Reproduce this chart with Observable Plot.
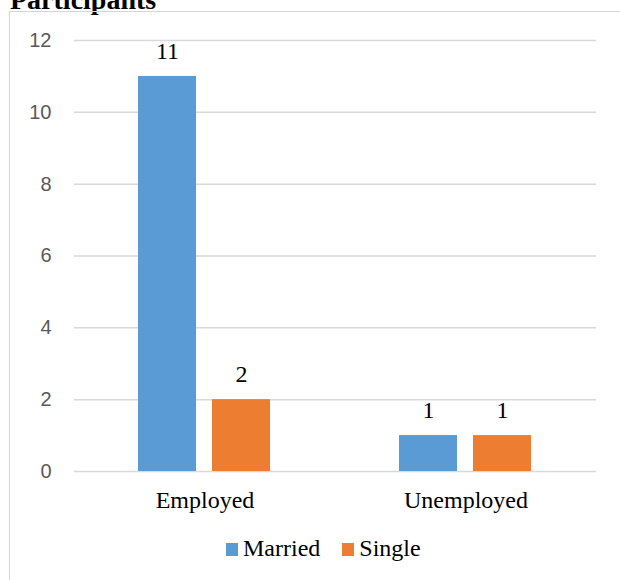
<!DOCTYPE html>
<html>
<head>
<meta charset="utf-8">
<script src="https://cdn.jsdelivr.net/npm/d3@7"></script>
<script src="https://cdn.jsdelivr.net/npm/@observablehq/plot@0.6"></script>
<style>
  html, body { margin: 0; padding: 0; width: 620px; height: 580px; overflow: hidden; background: #fff; }
  #title { position: absolute; left: 10px; top: -14px; font-weight: bold; font-size: 28px; line-height: 28px; font-family: 'Liberation Serif', 'DejaVu Serif', serif; color: #000; white-space: nowrap; }
  #box { position: absolute; left: 9px; top: 11px; width: 700px; height: 700px; border: 1px solid #d6d6d6; box-sizing: border-box; }
  #chart { position: absolute; left: 0; top: 0; }
  #legend { position: absolute; left: 226px; top: 536px; font-size: 24px; line-height: 24px; font-family: 'Liberation Serif', 'DejaVu Serif', serif; color: #000; white-space: nowrap; }
  #legend .item { display: inline-block; margin-right: 22px; }
  #legend .sw { display: inline-block; width: 12px; height: 13px; margin-right: 5px; vertical-align: 0; }
</style>
</head>
<body>
<div id="title">Participants</div>
<div id="box"></div>
<div id="chart"></div>
<div id="legend"></div>
<script>
const categories = ["Employed", "Unemployed"];
const series = ["Married", "Single"];
const married = [11, 1];
const single = [2, 1];
const yTicks = [0, 2, 4, 6, 8, 10, 12];
const colors = ["#5B9BD5", "#ED7D31"];
const serif = "'Liberation Serif', 'DejaVu Serif', serif";

const data = categories.flatMap((c, i) => [
  {category: c, series: series[0], value: married[i]},
  {category: c, series: series[1], value: single[i]}
]);

const chart = Plot.plot({
  width: 620,
  height: 521,
  marginLeft: 73,
  marginRight: 24,
  marginTop: 40,
  marginBottom: 50,
  style: "background: none; overflow: visible;",
  fx: {domain: categories, padding: 0, label: null, axis: null},
  x: {domain: series, paddingInner: 0.21, paddingOuter: 0.85, axis: null},
  y: {domain: [0, 12], axis: null},
  color: {domain: series, range: colors},
  marks: [
    Plot.ruleY(yTicks, {stroke: "#d9d9d9", strokeWidth: 1.5}),
    Plot.barY(data, {fx: "category", x: "series", y: "value", fill: "series"}),
    Plot.text(data, {fx: "category", x: "series", y: "value", text: d => String(d.value), dy: -25,
      fontSize: 24, fontFamily: serif, fill: "#000"}),
    Plot.axisFx({anchor: "bottom", tickSize: 0, tickPadding: 19, fontSize: 24,
      fontFamily: serif, color: "#000", label: null}),
    Plot.axisY(yTicks, {anchor: "left", tickSize: 0, tickPadding: 23, fontSize: 20,
      fontFamily: "'Liberation Sans', Arial, sans-serif", color: "#595959", label: null})
  ]
});
document.getElementById("chart").appendChild(chart);

const legend = document.getElementById("legend");
series.forEach((s, i) => {
  const item = document.createElement("span");
  item.className = "item";
  const sw = document.createElement("span");
  sw.className = "sw";
  sw.style.background = colors[i];
  item.appendChild(sw);
  item.appendChild(document.createTextNode(s));
  legend.appendChild(item);
});
</script>
</body>
</html>
